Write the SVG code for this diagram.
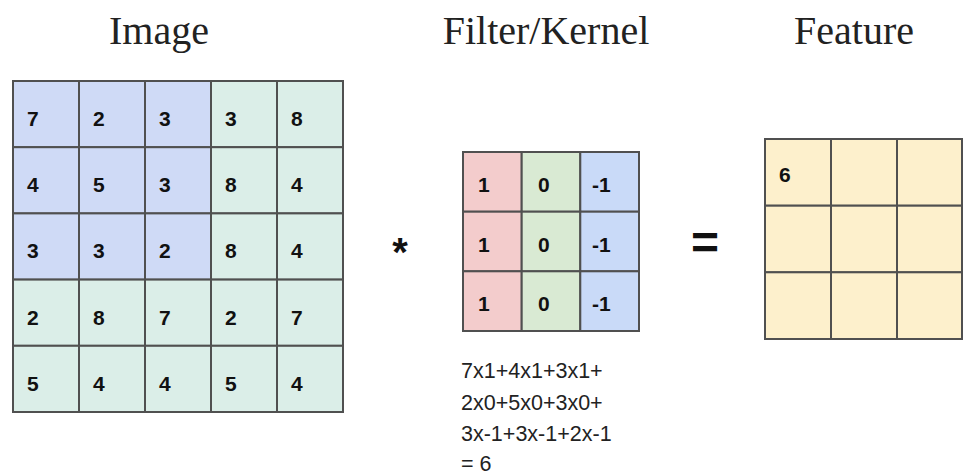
<svg xmlns="http://www.w3.org/2000/svg" width="963" height="476" viewBox="0 0 963 476">
<style>
.title{font-family:"Liberation Serif","Times New Roman",serif;font-size:40px;fill:#222;text-anchor:middle}
.num{font-family:"Liberation Sans",Arial,sans-serif;font-size:21px;font-weight:bold;fill:#111}
.calc{font-family:"Liberation Sans",Arial,sans-serif;font-size:21.5px;fill:#222}
.op{font-family:"Liberation Sans",Arial,sans-serif;font-weight:bold;fill:#111;text-anchor:middle}
.cell{stroke:#505050;stroke-width:2}
.b{fill:#cfdaf6}.g{fill:#dbeee8}.r{fill:#f3cccc}.gr{fill:#d9ead3}.fb{fill:#c9daf8}.y{fill:#fdf0cc}
</style>
<text class="title" x="159" y="44">Image</text>
<text class="title" x="546" y="44">Filter/Kernel</text>
<text class="title" x="854" y="44">Feature</text>
<g id="image">
<rect class="cell b" x="13" y="81" width="66" height="66.2"/>
<rect class="cell b" x="79" y="81" width="66" height="66.2"/>
<rect class="cell b" x="145" y="81" width="66" height="66.2"/>
<rect class="cell g" x="211" y="81" width="66" height="66.2"/>
<rect class="cell g" x="277" y="81" width="66" height="66.2"/>
<rect class="cell b" x="13" y="147.2" width="66" height="66.2"/>
<rect class="cell b" x="79" y="147.2" width="66" height="66.2"/>
<rect class="cell b" x="145" y="147.2" width="66" height="66.2"/>
<rect class="cell g" x="211" y="147.2" width="66" height="66.2"/>
<rect class="cell g" x="277" y="147.2" width="66" height="66.2"/>
<rect class="cell b" x="13" y="213.4" width="66" height="66.2"/>
<rect class="cell b" x="79" y="213.4" width="66" height="66.2"/>
<rect class="cell b" x="145" y="213.4" width="66" height="66.2"/>
<rect class="cell g" x="211" y="213.4" width="66" height="66.2"/>
<rect class="cell g" x="277" y="213.4" width="66" height="66.2"/>
<rect class="cell g" x="13" y="279.6" width="66" height="66.2"/>
<rect class="cell g" x="79" y="279.6" width="66" height="66.2"/>
<rect class="cell g" x="145" y="279.6" width="66" height="66.2"/>
<rect class="cell g" x="211" y="279.6" width="66" height="66.2"/>
<rect class="cell g" x="277" y="279.6" width="66" height="66.2"/>
<rect class="cell g" x="13" y="345.8" width="66" height="66.2"/>
<rect class="cell g" x="79" y="345.8" width="66" height="66.2"/>
<rect class="cell g" x="145" y="345.8" width="66" height="66.2"/>
<rect class="cell g" x="211" y="345.8" width="66" height="66.2"/>
<rect class="cell g" x="277" y="345.8" width="66" height="66.2"/>
<text class="num" x="27" y="126">7</text><text class="num" x="93" y="126">2</text><text class="num" x="159" y="126">3</text><text class="num" x="225" y="126">3</text><text class="num" x="291" y="126">8</text>
<text class="num" x="27" y="192.2">4</text><text class="num" x="93" y="192.2">5</text><text class="num" x="159" y="192.2">3</text><text class="num" x="225" y="192.2">8</text><text class="num" x="291" y="192.2">4</text>
<text class="num" x="27" y="258.4">3</text><text class="num" x="93" y="258.4">3</text><text class="num" x="159" y="258.4">2</text><text class="num" x="225" y="258.4">8</text><text class="num" x="291" y="258.4">4</text>
<text class="num" x="27" y="324.6">2</text><text class="num" x="93" y="324.6">8</text><text class="num" x="159" y="324.6">7</text><text class="num" x="225" y="324.6">2</text><text class="num" x="291" y="324.6">7</text>
<text class="num" x="27" y="390.8">5</text><text class="num" x="93" y="390.8">4</text><text class="num" x="159" y="390.8">4</text><text class="num" x="225" y="390.8">5</text><text class="num" x="291" y="390.8">4</text>
</g>
<g id="times"><text class="op" x="400" y="266" font-size="40">*</text></g>
<g id="filter">
<rect class="cell r" x="463" y="152" width="58.7" height="59.7"/>
<rect class="cell gr" x="521.7" y="152" width="58.6" height="59.7"/>
<rect class="cell fb" x="580.3" y="152" width="58.7" height="59.7"/>
<rect class="cell r" x="463" y="211.7" width="58.7" height="59.6"/>
<rect class="cell gr" x="521.7" y="211.7" width="58.6" height="59.6"/>
<rect class="cell fb" x="580.3" y="211.7" width="58.7" height="59.6"/>
<rect class="cell r" x="463" y="271.3" width="58.7" height="59.7"/>
<rect class="cell gr" x="521.7" y="271.3" width="58.6" height="59.7"/>
<rect class="cell fb" x="580.3" y="271.3" width="58.7" height="59.7"/>
<text class="num" x="478" y="192">1</text><text class="num" x="538" y="192">0</text><text class="num" x="592" y="192">-1</text>
<text class="num" x="478" y="251.7">1</text><text class="num" x="538" y="251.7">0</text><text class="num" x="592" y="251.7">-1</text>
<text class="num" x="478" y="311.3">1</text><text class="num" x="538" y="311.3">0</text><text class="num" x="592" y="311.3">-1</text>
</g>
<g id="calc">
<text class="calc" x="461" y="378">7x1+4x1+3x1+</text>
<text class="calc" x="461" y="410">2x0+5x0+3x0+</text>
<text class="calc" x="461" y="441">3x-1+3x-1+2x-1</text>
<text class="calc" x="461" y="471">= 6</text>
</g>
<g id="equals"><text class="op" x="705" y="259" font-size="48">=</text></g>
<g id="feature">
<rect class="cell y" x="765" y="139" width="66" height="66.7"/>
<rect class="cell y" x="831" y="139" width="66" height="66.7"/>
<rect class="cell y" x="897" y="139" width="65" height="66.7"/>
<rect class="cell y" x="765" y="205.7" width="66" height="66.6"/>
<rect class="cell y" x="831" y="205.7" width="66" height="66.6"/>
<rect class="cell y" x="897" y="205.7" width="65" height="66.6"/>
<rect class="cell y" x="765" y="272.3" width="66" height="66.7"/>
<rect class="cell y" x="831" y="272.3" width="66" height="66.7"/>
<rect class="cell y" x="897" y="272.3" width="65" height="66.7"/>
<text class="num" x="779" y="182">6</text>
</g>
</svg>
